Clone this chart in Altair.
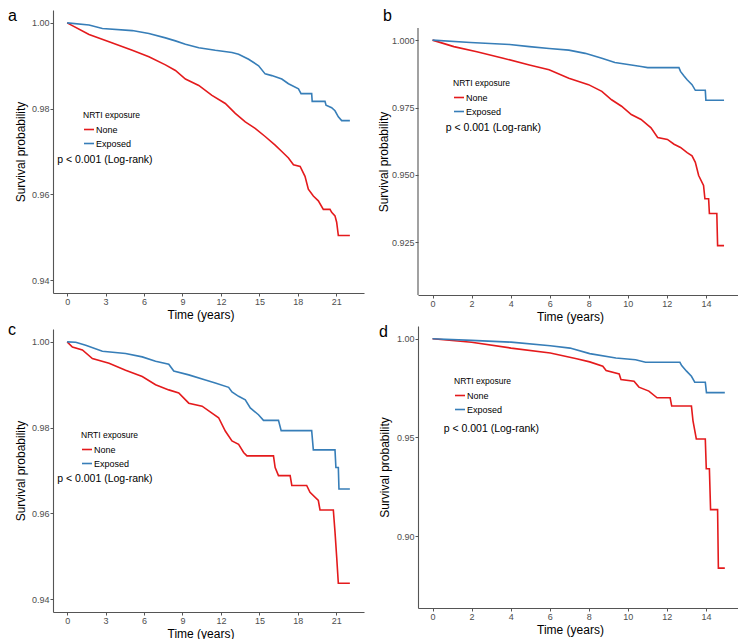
import altair as alt
import pandas as pd

RED = "#E41A1C"
BLUE = "#377EB8"
AXIS_GREY = "#555555"
FONT = "Liberation Sans"
GROUPS = ["None", "Exposed"]

# ---- panel a ----
a_none_t = [0, 1.71, 3.27, 5.08, 6.38, 7.67, 8.45, 9.23, 10.27, 11.30, 12.34, 13.12, 13.90, 14.67, 15.45,
            16.23, 16.75, 17.27, 17.66, 18.18, 18.56, 18.82, 19.21, 19.60, 19.99, 20.51, 20.64, 20.90, 21.03,
            21.16, 22.06]
a_none_s = [1.0, 0.9973, 0.9956, 0.9936, 0.9921, 0.9902, 0.9889, 0.9869, 0.9854, 0.9831, 0.9812, 0.9789,
            0.9769, 0.9754, 0.9735, 0.9715, 0.9700, 0.9685, 0.9669, 0.9665, 0.9642, 0.9612, 0.9596, 0.9585,
            0.9565, 0.9565, 0.9558, 0.9550, 0.9535, 0.9504, 0.9504]
a_exp_t = [0, 1.71, 2.75, 5.08, 6.38, 7.67, 8.45, 9.23, 10.27, 11.56, 12.86, 13.38, 14.16, 14.94, 15.45,
           15.97, 16.75, 17.27, 18.05, 18.25, 19.08, 19.12, 20.12, 20.20, 20.64, 20.90, 21.16, 21.42, 22.06]
a_exp_s = [1.0, 0.9995, 0.9987, 0.9982, 0.9975, 0.9965, 0.9958, 0.9950, 0.9942, 0.9936, 0.9931, 0.9927,
           0.9915, 0.9900, 0.9881, 0.9877, 0.9869, 0.9858, 0.9846, 0.9835, 0.9835, 0.9817, 0.9817, 0.9808,
           0.9802, 0.9795, 0.9781, 0.9772, 0.9772]

# ---- panel b ----
b_none_t = [0, 1.09, 2.27, 3.62, 4.96, 5.97, 6.98, 7.99, 8.67, 9.17, 9.68, 10.18, 10.68, 11.19, 11.53,
            12.03, 12.37, 12.70, 13.04, 13.29, 13.46, 13.63, 13.88, 13.95, 14.14, 14.18, 14.56, 14.60, 14.93]
b_none_s = [1.0, 0.9976, 0.9957, 0.9933, 0.9908, 0.9890, 0.9859, 0.9835, 0.9810, 0.9779, 0.9755, 0.9724,
            0.9706, 0.9675, 0.9639, 0.9632, 0.9614, 0.9602, 0.9583, 0.9571, 0.9547, 0.9498, 0.9461, 0.9412,
            0.9412, 0.9357, 0.9357, 0.9238, 0.9238]
b_exp_t = [0, 1.94, 3.95, 4.96, 5.97, 6.98, 7.82, 8.67, 9.34, 10.18, 10.68, 11.02, 12.62, 12.70, 12.87,
           13.04, 13.29, 13.46, 13.97, 14.00, 14.93]
b_exp_s = [1.0, 0.9991, 0.9984, 0.9976, 0.9969, 0.9963, 0.9951, 0.9933, 0.9917, 0.9908, 0.9902, 0.9898,
           0.9898, 0.9884, 0.9868, 0.9853, 0.9835, 0.9814, 0.9814, 0.9777, 0.9777]

# ---- panel c ----
c_none_t = [0, 0.41, 1.19, 1.97, 3.27, 4.56, 5.86, 6.90, 7.93, 8.71, 9.49, 10.53, 11.30, 11.82, 12.34,
            12.86, 13.38, 13.77, 14.03, 16.10, 16.23, 16.49, 17.40, 17.53, 18.69, 18.95, 19.60, 19.73, 20.77,
            20.90, 21.03, 21.16, 22.06]
c_none_s = [1.0, 0.9988, 0.9981, 0.9961, 0.9950, 0.9934, 0.9919, 0.9900, 0.9888, 0.9881, 0.9857, 0.9850,
            0.9834, 0.9823, 0.9792, 0.9769, 0.9761, 0.9742, 0.9734, 0.9734, 0.9707, 0.9688, 0.9688, 0.9665,
            0.9665, 0.9649, 0.9630, 0.9608, 0.9608, 0.9557, 0.9499, 0.9437, 0.9437]
c_exp_t = [0, 0.67, 1.45, 2.75, 4.56, 5.86, 6.90, 7.93, 8.32, 9.49, 10.79, 11.56, 12.60, 12.86, 13.38,
           13.90, 14.29, 14.93, 15.32, 16.49, 16.70, 19.08, 19.21, 20.90, 20.97, 21.16, 21.21, 22.06]
c_exp_s = [1.0, 0.9999, 0.9992, 0.9978, 0.9973, 0.9965, 0.9955, 0.9948, 0.9932, 0.9923, 0.9911, 0.9904,
           0.9894, 0.9883, 0.9873, 0.9865, 0.9846, 0.9830, 0.9817, 0.9817, 0.9793, 0.9793, 0.9748, 0.9748,
           0.9707, 0.9707, 0.9657, 0.9657]

# ---- panel d ----
d_none_t = [0, 2.0, 4.02, 6.03, 7.38, 8.05, 8.72, 8.89, 9.56, 9.65, 10.32, 10.57, 11.08, 11.50, 12.17,
            12.25, 13.26, 13.34, 13.51, 13.97, 14.02, 14.18, 14.24, 14.60, 14.64, 14.97]
d_none_s = [1.0, 0.9983, 0.9953, 0.9928, 0.9899, 0.9883, 0.9861, 0.9839, 0.9822, 0.9794, 0.9785, 0.9755,
            0.9735, 0.9701, 0.9701, 0.9659, 0.9659, 0.9584, 0.9492, 0.9492, 0.9341, 0.9341, 0.9134, 0.9134,
            0.8837, 0.8837]
d_exp_t = [0, 2.0, 4.02, 6.03, 7.04, 8.05, 9.39, 10.40, 10.91, 12.67, 12.76, 13.01, 13.26, 13.43, 13.97,
           14.03, 14.97]
d_exp_s = [1.0, 0.9992, 0.9983, 0.9965, 0.9953, 0.9925, 0.9903, 0.9894, 0.9881, 0.9881, 0.9864, 0.9836,
           0.9810, 0.9780, 0.9780, 0.9727, 0.9727]

x_ticks_long = [0, 3, 6, 9, 12, 15, 18, 21]
x_ticks_short = [0, 2, 4, 6, 8, 10, 12, 14]
y_ticks_a = [0.94, 0.96, 0.98, 1.00]
y_ticks_b = [0.925, 0.950, 0.975, 1.000]
y_ticks_d = [0.90, 0.95, 1.00]

P_TEXT = "p < 0.001 (Log-rank)"


def make_df(none_t, none_s, exp_t, exp_s):
    rows = []
    i = 0
    for t, s in zip(none_t, none_s):
        rows.append({"t": t, "s": s, "group": "None", "i": i}); i += 1
    for t, s in zip(exp_t, exp_s):
        rows.append({"t": t, "s": s, "group": "Exposed", "i": i}); i += 1
    return pd.DataFrame(rows)


def panel(df, label, xdom, xticks, ydom, yticks, yfmt, w, h, legx, legy, p_t, p_s,
          lab_x, lab_y, ytitle_x, top_gap=0):
    # top_gap: empty space above the y-axis line (panel sits lower than its neighbour)
    y0, y1 = ydom
    if top_gap:
        y1 = y1 + top_gap * (y1 - y0) / h
    H = h + top_gap
    xsc = alt.Scale(domain=xdom, nice=False, zero=False)
    ysc = alt.Scale(domain=[y0, y1], nice=False, zero=False)
    lines = alt.Chart(df).mark_line(strokeWidth=1.6).encode(
        x=alt.X("t:Q", scale=xsc,
                axis=alt.Axis(values=xticks, format="d", title="Time (years)",
                              titleX=w / 2 - 8, titlePadding=3, labelPadding=1)),
        y=alt.Y("s:Q", scale=ysc,
                axis=alt.Axis(values=yticks, format=yfmt, title="Survival probability",
                              titleX=ytitle_x, titleY=top_gap + h / 2, labelPadding=1,
                              domain=(top_gap == 0))),
        color=alt.Color("group:N",
                        scale=alt.Scale(domain=GROUPS, range=[RED, BLUE]),
                        legend=alt.Legend(title="NRTI exposure", orient="none",
                                          legendX=legx, legendY=legy + top_gap)),
        detail="group:N",
        order=alt.Order("i:Q"),
    )
    ptxt = alt.Chart(pd.DataFrame({"t": [p_t], "s": [p_s], "txt": [P_TEXT]})).mark_text(
        align="left", baseline="middle", fontSize=10.5, font=FONT, color="black"
    ).encode(x=alt.X("t:Q", scale=xsc), y=alt.Y("s:Q", scale=ysc), text="txt:N")
    lab = alt.Chart(pd.DataFrame({"lab": [label]})).mark_text(
        align="left", baseline="alphabetic", fontSize=16, font=FONT, color="black",
        x=lab_x, y=lab_y
    ).encode(text="lab:N")
    layers = [lines, ptxt, lab]
    if top_gap:
        axis_line = alt.Chart(pd.DataFrame({"k": [0]})).mark_rule(
            color=AXIS_GREY, strokeWidth=1.1
        ).encode(x=alt.value(0), y=alt.value(top_gap), y2=alt.value(H))
        layers.append(axis_line)
    return alt.layer(*layers).properties(width=w, height=H)


WA, HA = 311, 283
WB, HB = 320, 267
WC, HC = 311, 283
WD, HD = 320, 282
GAP_B = 18

pa = panel(make_df(a_none_t, a_none_s, a_exp_t, a_exp_s), "a",
           [-1.103, 23.163], x_ticks_long, [0.937, 1.003], y_ticks_a, ".2f",
           WA, HA, 30, 101, -0.78, 0.9681, -45, 11, -26)
pb = panel(make_df(b_none_t, b_none_s, b_exp_t, b_exp_s), "b",
           [-0.745, 15.645], x_ticks_short, [0.9055, 1.0045], y_ticks_b, ".3f",
           WB, HB, 35, 51, 0.67, 0.9675, -35, 11, -28, top_gap=GAP_B)
pc = panel(make_df(c_none_t, c_none_s, c_exp_t, c_exp_s), "c",
           [-1.103, 23.163], x_ticks_long, [0.937, 1.003], y_ticks_a, ".2f",
           WC, HC, 28, 102, -0.78, 0.9680, -45, 6, -26)
pd_ = panel(make_df(d_none_t, d_none_s, d_exp_t, d_exp_s), "d",
            [-0.745, 15.645], x_ticks_short, [0.8635, 1.0065], y_ticks_d, ".2f",
            WD, HD, 36, 51, 0.57, 0.9542, -39, 11, -27)

RES = dict(x="independent", y="independent", color="independent")

left = alt.vconcat(pa, pc, spacing=2).resolve_scale(**RES).resolve_legend(color="independent")
right = alt.vconcat(pb, pd_, spacing=2).resolve_scale(**RES).resolve_legend(color="independent")

chart = alt.hconcat(left, right, spacing=13).resolve_scale(**RES).resolve_legend(
    color="independent"
).properties(padding=0, background="white").configure_view(stroke=None).configure_axis(
    grid=False,
    domainColor=AXIS_GREY,
    domainWidth=1.1,
    tickColor=AXIS_GREY,
    tickSize=3,
    labelFont=FONT,
    labelFontSize=9,
    labelColor="#4D4D4D",
    titleFont=FONT,
    titleFontSize=12,
    titleFontWeight="normal",
    titleColor="black",
    titlePadding=4,
).configure_legend(
    titleFont=FONT,
    titleFontSize=8.5,
    titleFontWeight="normal",
    titleColor="black",
    titlePadding=4,
    labelFont=FONT,
    labelFontSize=9,
    labelColor="black",
    labelOffset=1,
    symbolType="stroke",
    symbolStrokeWidth=1.6,
    symbolSize=100,
    symbolOffset=0,
    rowPadding=3,
)

chart.save("out.html", embed_options={"renderer": "svg", "actions": False})
